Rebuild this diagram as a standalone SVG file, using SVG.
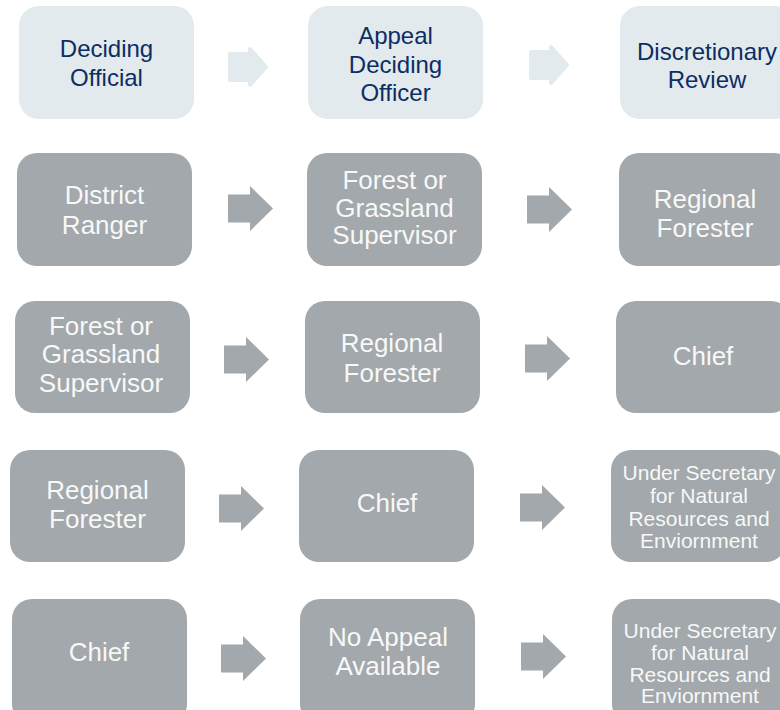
<svg xmlns="http://www.w3.org/2000/svg" xmlns:xlink="http://www.w3.org/1999/xlink" width="780" height="710" viewBox="0 0 780 710">
<style>
.hbox{fill:#e2eaed}
.gbox{fill:#a2a8ab}
.ht{font-family:"Liberation Sans",Arial,sans-serif;font-size:24px;fill:#0d2d63;text-anchor:middle}
.gt{font-family:"Liberation Sans",Arial,sans-serif;font-size:26px;fill:#f8f8f8;text-anchor:middle}
.st{font-family:"Liberation Sans",Arial,sans-serif;font-size:21px;fill:#f8f8f8;text-anchor:middle}
.harr{fill:#e2eaed;stroke:#e2eaed;stroke-width:4;stroke-linejoin:round}
.garr{fill:#a2a8ab}
</style>
<defs>
<path id="ha" d="M2,7 h20 v-5 l16,18 l-16,18 v-5 h-20 z"/>
<path id="ga" d="M0,8.5 h22 v-8.5 l23,22.5 l-23,22.5 v-8.5 h-22 z"/>
</defs>
<rect width="780" height="710" fill="#ffffff"/>

<g id="connectors">
<use href="#ha" class="harr" x="228" y="47"/>
<use href="#ha" class="harr" x="529" y="45"/>
<use href="#ga" class="garr" x="228" y="186"/>
<use href="#ga" class="garr" x="527" y="187"/>
<use href="#ga" class="garr" x="224" y="337"/>
<use href="#ga" class="garr" x="525" y="336"/>
<use href="#ga" class="garr" x="219" y="486"/>
<use href="#ga" class="garr" x="520" y="485"/>
<use href="#ga" class="garr" x="221" y="636"/>
<use href="#ga" class="garr" x="521" y="634"/>
</g>

<g id="h-deciding">
<rect class="hbox" x="19" y="6" width="175" height="113" rx="20"/>
<text class="ht" x="106.5" y="57">Deciding</text>
<text class="ht" x="106.5" y="85.5">Official</text>
</g>
<g id="h-appeal">
<rect class="hbox" x="308" y="6" width="175" height="113" rx="20"/>
<text class="ht" x="395.5" y="44">Appeal</text>
<text class="ht" x="395.5" y="72.5">Deciding</text>
<text class="ht" x="395.5" y="101">Officer</text>
</g>
<g id="h-review">
<rect class="hbox" x="620" y="6" width="175" height="113" rx="20"/>
<text class="ht" x="707" y="59.5">Discretionary</text>
<text class="ht" x="707" y="88">Review</text>
</g>

<g id="r1-district">
<rect class="gbox" x="17" y="153" width="175" height="113" rx="20"/>
<text class="gt" x="104.5" y="204">District</text>
<text class="gt" x="104.5" y="233.5">Ranger</text>
</g>
<g id="r1-forest">
<rect class="gbox" x="307" y="153" width="175" height="113" rx="20"/>
<text class="gt" x="394.5" y="189">Forest or</text>
<text class="gt" x="394.5" y="216.5">Grassland</text>
<text class="gt" x="394.5" y="244">Supervisor</text>
</g>
<g id="r1-regional">
<rect class="gbox" x="619" y="153" width="175" height="113" rx="20"/>
<text class="gt" x="705" y="208">Regional</text>
<text class="gt" x="705" y="237">Forester</text>
</g>

<g id="r2-forest">
<rect class="gbox" x="15" y="301" width="175" height="112" rx="20"/>
<text class="gt" x="101" y="335">Forest or</text>
<text class="gt" x="101" y="363">Grassland</text>
<text class="gt" x="101" y="391.5">Supervisor</text>
</g>
<g id="r2-regional">
<rect class="gbox" x="305" y="301" width="175" height="112" rx="20"/>
<text class="gt" x="392" y="352">Regional</text>
<text class="gt" x="392" y="381.5">Forester</text>
</g>
<g id="r2-chief">
<rect class="gbox" x="616" y="301" width="175" height="112" rx="20"/>
<text class="gt" x="703" y="365">Chief</text>
</g>

<g id="r3-regional">
<rect class="gbox" x="10" y="450" width="175" height="112" rx="20"/>
<text class="gt" x="97.5" y="499">Regional</text>
<text class="gt" x="97.5" y="527.5">Forester</text>
</g>
<g id="r3-chief">
<rect class="gbox" x="299" y="450" width="175" height="112" rx="20"/>
<text class="gt" x="387" y="512">Chief</text>
</g>
<g id="r3-undersec">
<rect class="gbox" x="611" y="450" width="175" height="112" rx="20"/>
<text class="st" x="699" y="480">Under Secretary</text>
<text class="st" x="699" y="503">for Natural</text>
<text class="st" x="699" y="526">Resources and</text>
<text class="st" x="699" y="548">Enviornment</text>
</g>

<g id="r4-chief">
<rect class="gbox" x="12" y="599" width="175" height="125" rx="20"/>
<text class="gt" x="99" y="661">Chief</text>
</g>
<g id="r4-noappeal">
<rect class="gbox" x="300" y="599" width="175" height="125" rx="20"/>
<text class="gt" x="388" y="646">No Appeal</text>
<text class="gt" x="388" y="675">Available</text>
</g>
<g id="r4-undersec">
<rect class="gbox" x="612" y="599" width="175" height="125" rx="20"/>
<text class="st" x="700" y="638">Under Secretary</text>
<text class="st" x="700" y="660">for Natural</text>
<text class="st" x="700" y="682">Resources and</text>
<text class="st" x="700" y="703">Enviornment</text>
</g>
</svg>
